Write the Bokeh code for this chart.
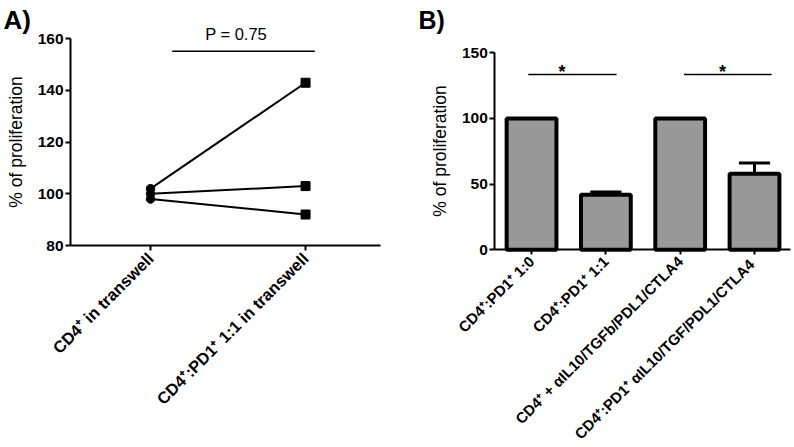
from bokeh.plotting import figure
from bokeh.layouts import row
from bokeh.models import FixedTicker, Label, Range1d, Whisker, ColumnDataSource
from bokeh.embed import file_html
from bokeh.resources import INLINE
from bokeh.core.properties import value
import math

# ---------- data ----------
a_categories = ["CD4\u207a in transwell", "CD4\u207a:PD1\u207a 1:1 in transwell"]
a_left = [102, 100, 98]
a_right = [143, 103, 92]
a_yticks = [80, 100, 120, 140, 160]
a_pvalue = "P = 0.75"
a_pline_x = [0.14, 1.06]
a_pline_y = 155.2

b_categories = ["CD4\u207a:PD1\u207a 1:0",
                "CD4\u207a:PD1\u207a 1:1",
                "CD4\u207a + \u03b1IL10/TGFb/PDL1/CTLA4",
                "CD4\u207a:PD1\u207a  \u03b1IL10/TGF/PDL1/CTLA4"]
b_values = [100, 42, 100, 58]
b_err_top = [100, 44, 100, 66]
b_yticks = [0, 50, 100, 150]
b_sig_x0 = [-0.044, 2.05]
b_sig_x1 = [1.144, 3.23]
b_sig_y = [133.5, 133.5]
b_star_x = [0.41, 2.57]
b_sig_text = ["*", "*"]

FONT = "Liberation Sans"
H = 447


def style(p, ticks, xbounds, ybounds, xfix, yfix):
    p.outline_line_color = None
    p.grid.visible = False
    p.background_fill_color = "white"
    p.border_fill_color = "white"
    for ax in (p.xaxis, p.yaxis):
        ax.axis_line_width = 2
        ax.major_tick_line_width = 2
        ax.major_tick_out = 5
        ax.major_tick_in = 0
        ax.minor_tick_line_color = None
        ax.major_label_text_font = FONT
        ax.major_label_text_font_style = "bold"
        ax.major_label_text_color = "black"
        ax.axis_line_color = "black"
        ax.major_tick_line_color = "black"
    p.yaxis.fixed_location = yfix
    p.xaxis.fixed_location = xfix
    p.yaxis.ticker = FixedTicker(ticks=ticks)
    p.yaxis.bounds = ybounds
    p.xaxis.bounds = xbounds
    p.yaxis.major_label_text_font_size = "15.5px"
    p.yaxis.major_label_standoff = 2
    p.yaxis.axis_label = "% of proliferation"
    p.yaxis.axis_label_text_font = FONT
    p.yaxis.axis_label_text_font_style = "normal"
    p.yaxis.axis_label_text_font_size = "17.5px"
    p.yaxis.axis_label_text_color = "black"
    p.yaxis.axis_label_standoff = 9
    p.xaxis.major_label_orientation = math.pi / 4


# ---------- panel A ----------
pa = figure(width=394, height=H, output_backend="svg",
            toolbar_location=None, min_border=0,
            x_range=Range1d(-0.968, 1.574), y_range=Range1d(1.83, 174.82))
style(pa, a_yticks, (-0.516, 1.484), (80, 160), 80, -0.516)
pa.xaxis.ticker = FixedTicker(ticks=[0, 1])
pa.xaxis.major_label_overrides = {0: a_categories[0], 1: a_categories[1]}
pa.xaxis.major_label_text_font_size = "16.5px"
pa.xaxis.major_label_standoff = 5

for l, r in zip(a_left, a_right):
    pa.line([0, 1], [l, r], line_color="black", line_width=2)
pa.scatter([0] * len(a_left), a_left, marker="circle", size=8.5, color="black")
pa.scatter([1] * len(a_right), a_right, marker="square", size=9, color="black")

pa.line(a_pline_x, [a_pline_y, a_pline_y], line_color="black", line_width=1.5)
pa.add_layout(Label(x=0.552, y=162, text=a_pvalue, text_font=FONT,
                    text_font_size="16.5px", text_align="center",
                    text_color="black", text_baseline="alphabetic"))
pa.add_layout(Label(x=3, y=428, x_units="screen", y_units="screen",
                    text="A)", text_font=FONT, text_font_style="bold",
                    text_color="black", text_font_size="26px",
                    text_baseline="alphabetic"))

# ---------- panel B ----------
pb = figure(width=400, height=H, output_backend="svg",
            toolbar_location=None, min_border=0,
            x_range=Range1d(-1.844, 3.538), y_range=Range1d(-150.5, 189.8))
style(pb, b_yticks, (-0.494, 3.485), (0, 150), 0, -0.494)
pb.xaxis.ticker = FixedTicker(ticks=[0, 1, 2, 3])
pb.xaxis.major_label_overrides = {i: c for i, c in enumerate(b_categories)}
pb.xaxis.major_label_text_font_size = "15px"
pb.xaxis.major_label_standoff = 4

xs = list(range(len(b_values)))
pb.vbar(x=xs, top=b_values, width=0.67, fill_color="#999999",
        line_color="black", line_width=4)
src = ColumnDataSource(dict(x=xs, lower=b_values, upper=b_err_top))
pb.add_layout(Whisker(source=src, base="x", lower="lower", upper="upper",
                      line_width=3, line_color="black",
                      lower_head=None, upper_head=None))
pb.segment(x0=[x - 0.21 for x in xs], x1=[x + 0.21 for x in xs],
           y0=b_err_top, y1=b_err_top, line_width=3, line_color="black")

pb.segment(x0=b_sig_x0, x1=b_sig_x1, y0=b_sig_y, y1=b_sig_y,
           line_color="black", line_width=1.5)
pb.text(x=b_star_x, y=[y + 1.5 for y in b_sig_y], text=b_sig_text,
        text_font=value(FONT), text_font_size="18px", text_font_style="bold",
        text_color="black", text_align="center", text_baseline="alphabetic")
pb.add_layout(Label(x=24, y=428, x_units="screen", y_units="screen",
                    text="B)", text_font=FONT, text_font_style="bold",
                    text_color="black", text_font_size="25px",
                    text_baseline="alphabetic"))

layout = row(pa, pb)
open("out.html", "w").write(file_html(layout, INLINE))
